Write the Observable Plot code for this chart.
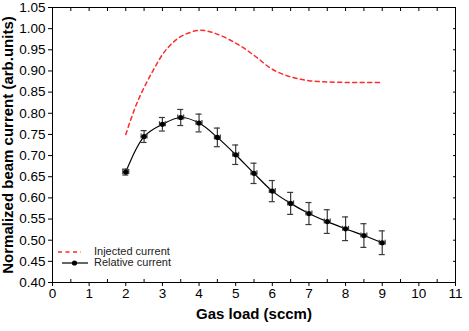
<!DOCTYPE html>
<html><head><meta charset="utf-8">
<script src="https://cdn.jsdelivr.net/npm/d3@7"></script>
<script src="https://cdn.jsdelivr.net/npm/@observablehq/plot@0.6"></script>
<style>
html,body{margin:0;padding:0;background:#fff;}
#wrap{position:relative;width:469px;height:331px;font-family:"Liberation Sans",Arial,Helvetica,sans-serif;}
.leg{position:absolute;left:0;top:0;font-size:11px;color:#222;}
.row{position:absolute;height:12px;line-height:12px;white-space:nowrap;}
.row svg{position:absolute;top:0;}
.row span{position:absolute;top:-1px;}
</style></head><body><div id="wrap"></div>
<script>
// Relative current (measured, with error bars)
const gasLoad = [2, 2.5, 3, 3.5, 4, 4.5, 5, 5.5, 6, 6.5, 7, 7.5, 8, 8.5, 9];
const relCurrent = [0.661, 0.745, 0.774, 0.790, 0.777, 0.743, 0.702, 0.658, 0.616, 0.587, 0.563, 0.544, 0.527, 0.511, 0.494];
const relError = [0.007, 0.014, 0.016, 0.019, 0.021, 0.022, 0.023, 0.024, 0.025, 0.026, 0.026, 0.028, 0.028, 0.028, 0.028];
const gasError = [0.08, 0.08, 0.08, 0.08, 0.08, 0.08, 0.08, 0.08, 0.08, 0.08, 0.08, 0.08, 0.08, 0.08, 0.08];
// Injected current (dashed curve)
const injGas = [2.0, 2.3, 2.7, 3.1, 3.5, 4.0, 4.4, 5.0, 5.5, 6.0, 6.5, 7.0, 7.5, 8.0, 8.5, 9.0];
const injCurrent = [0.750, 0.823, 0.894, 0.950, 0.981, 0.996, 0.990, 0.966, 0.937, 0.904, 0.886, 0.877, 0.874, 0.873, 0.873, 0.873];
// Axes
const xMajorTicks = [0, 1, 2, 3, 4, 5, 6, 7, 8, 9, 10, 11];
const xMinorTicks = [0.5, 1.5, 2.5, 3.5, 4.5, 5.5, 6.5, 7.5, 8.5, 9.5, 10.5];
const xAllTicks = [0, 0.5, 1, 1.5, 2, 2.5, 3, 3.5, 4, 4.5, 5, 5.5, 6, 6.5, 7, 7.5, 8, 8.5, 9, 9.5, 10, 10.5, 11];
const yTicks = [0.40, 0.45, 0.50, 0.55, 0.60, 0.65, 0.70, 0.75, 0.80, 0.85, 0.90, 0.95, 1.00, 1.05];
const xLabel = "Gas load (sccm)";
const yLabel = "Normalized beam current (arb.units)";
const seriesNames = ["Injected current", "Relative current"];

const rel = gasLoad.map((g, i) => ({g, v: relCurrent[i], lo: relCurrent[i] - relError[i], hi: relCurrent[i] + relError[i], glo: g - gasError[i], ghi: g + gasError[i]}));
const inj = injGas.map((g, i) => ({g, v: injCurrent[i]}));

const font = '"Liberation Sans", Arial, Helvetica, sans-serif';
const errColor = "#3a3a3a";

const chart = Plot.plot({
  width: 469, height: 331,
  marginLeft: 52, marginRight: 14, marginTop: 7, marginBottom: 49,
  x: {domain: [0, 11]},
  y: {domain: [0.40, 1.05]},
  style: {fontFamily: font, fontSize: "13.5px", color: "#000", background: "#fff", overflow: "visible"},
  marks: [
    Plot.line(inj, {x: "g", y: "v", stroke: "#ff2a2a", strokeWidth: 1.5, strokeDasharray: "4,3.5", curve: "catmull-rom"}),
    Plot.line(rel, {x: "g", y: "v", stroke: "#000", strokeWidth: 1.2, curve: "catmull-rom"}),
    Plot.ruleX(rel, {x: "g", y1: "lo", y2: "hi", stroke: errColor, strokeWidth: 1.2}),
    Plot.ruleY(rel, {y: "hi", x1: "g", x2: "g", insetLeft: -3, insetRight: -3, stroke: errColor, strokeWidth: 1.2}),
    Plot.ruleY(rel, {y: "lo", x1: "g", x2: "g", insetLeft: -3, insetRight: -3, stroke: errColor, strokeWidth: 1.2}),
    Plot.ruleY(rel, {y: "v", x1: "glo", x2: "ghi", stroke: errColor, strokeWidth: 1.2}),
    Plot.ruleX(rel, {x: "glo", y1: "v", y2: "v", insetTop: -2.5, insetBottom: -2.5, stroke: errColor, strokeWidth: 1.2}),
    Plot.ruleX(rel, {x: "ghi", y1: "v", y2: "v", insetTop: -2.5, insetBottom: -2.5, stroke: errColor, strokeWidth: 1.2}),
    Plot.dot(rel, {x: "g", y: "v", r: 2.6, fill: "#000", stroke: "none"}),
    Plot.frame({stroke: "#000", strokeWidth: 1}),
    Plot.axisX({ticks: xMajorTicks, tickSize: 4, tickPadding: 2, tickFormat: d => String(d), label: null}),
    Plot.axisX({ticks: xMinorTicks, tickSize: 3, dy: -3, fill: "none", stroke: "#000", label: null}),
    Plot.axisX({anchor: "top", ticks: xAllTicks, tickSize: 3, dy: 3, fill: "none", stroke: "#000", label: null}),
    Plot.axisY({ticks: yTicks, tickSize: 4, tickPadding: 3, tickFormat: d => d.toFixed(2), label: null}),
    Plot.axisY({anchor: "right", ticks: yTicks, tickSize: 3, dx: -3, fill: "none", stroke: "#000", label: null}),
    Plot.axisY({anchor: "left", ticks: [], tickSize: 0, label: yLabel, labelAnchor: "center", labelArrow: "none", labelOffset: 50, fontWeight: "bold", fontSize: 15}),
    Plot.text([xLabel], {text: d => d, frameAnchor: "bottom", dy: 36, fontWeight: "bold", fontSize: 15, fill: "#000"})
  ]
});
const wrap = document.getElementById("wrap");
wrap.appendChild(chart);

// Legend (inside the plot area, lower left)
const leg = document.createElement("div");
leg.className = "leg";
leg.innerHTML = `
<div class="row" style="left:56px;top:246px;">
  <svg width="28" height="12" style="left:0"><line x1="2" y1="6" x2="25" y2="6" stroke="#ff2a2a" stroke-width="1.5" stroke-dasharray="4,3.5"/></svg>
  <span style="left:38px">${seriesNames[0]}</span>
</div>
<div class="row" style="left:56px;top:257px;">
  <svg width="36" height="12" style="left:0"><line x1="6" y1="6" x2="32" y2="6" stroke="#000" stroke-width="1.2"/><circle cx="18.5" cy="6" r="2.6" fill="#000"/></svg>
  <span style="left:38px">${seriesNames[1]}</span>
</div>`;
wrap.appendChild(leg);
</script>
</body></html>
